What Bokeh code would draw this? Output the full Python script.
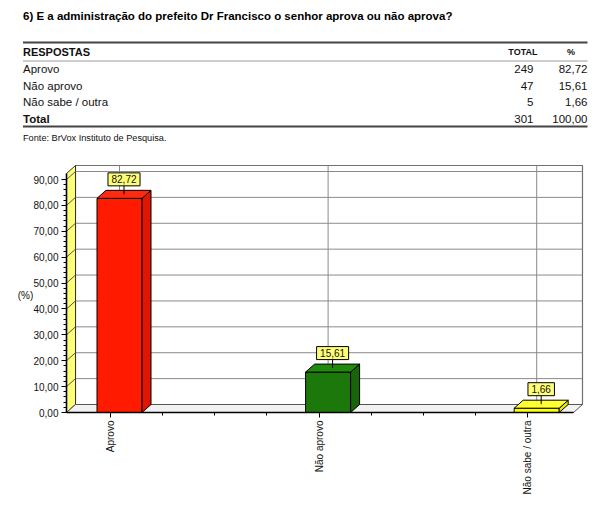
import math
from bokeh.plotting import figure
from bokeh.models import Range1d, FixedTicker
from bokeh.embed import file_html
from bokeh.resources import INLINE
from bokeh.core.properties import value

FONT = "Liberation Sans"

# ---------------- data ----------------
question = "6) E a administração do prefeito Dr Francisco o senhor aprova ou não aprova?"
col_headers = ["RESPOSTAS", "TOTAL", "%"]
categories = ["Aprovo", "Não aprovo", "Não sabe / outra"]
totals = [249, 47, 5]
percents = [82.72, 15.61, 1.66]
total_label = "Total"
total_n = 301
total_pct = 100.00
source_note = "Fonte: BrVox Instituto de Pesquisa."
y_axis_title = "(%)"
y_ticks = [0, 10, 20, 30, 40, 50, 60, 70, 80, 90]
y_tick_labels = ["0,00", "10,00", "20,00", "30,00", "40,00", "50,00",
                 "60,00", "70,00", "80,00", "90,00"]

# ---------------- styles ----------------
front_colors = ["#ff1a00", "#1c780a", "#ffff00"]
side_colors = ["#e01600", "#176508", "#e8e800"]
top_colors = ["#ff2a10", "#208a0c", "#ffff33"]
wall_yellow = "#ffff77"
grid_gray = "#8a8a8a"
W, H = 600, 520


def br(v):
    return f"{v:.2f}".replace(".", ",")


# chart geometry (pixels on the page)
SX = 208.6          # px per category
SY = 233.0 / 90.0   # px per percent
CAT0_X = 110.0      # page x of first category
BASE_Y = 412.0      # page y of value 0 (front)
xs0 = -CAT0_X / SX
xs1 = xs0 + W / SX
ys0 = -(H - BASE_Y) / SY
ys1 = ys0 + H / SY
ddx = 9.0 / SX       # depth offset (x)
ddy = 8.0 / SY       # depth offset (y)
xl = (66.0 - CAT0_X) / SX
xr = (573.0 - CAT0_X) / SX
ytop = (BASE_Y - 173.0) / SY
bw = 45.0 / SX

p = figure(width=W, height=H, x_range=Range1d(xs0, xs1), y_range=Range1d(ys0, ys1),
           toolbar_location=None, output_backend="svg", min_border=0)
p.extra_x_ranges = {"page": Range1d(0, W)}
p.extra_y_ranges = {"page": Range1d(H, 0)}
p.xgrid.visible = False
p.ygrid.visible = False
p.outline_line_color = None
p.background_fill_color = "white"
p.border_fill_color = "white"

PG = dict(x_range_name="page", y_range_name="page")


def ptext(xs, ys, texts, size, bold=False, align="left", color="#111111"):
    p.text(x=xs, y=ys, text=texts, text_font=value(FONT), text_font_size=size,
           text_font_style="bold" if bold else "normal", text_align=align,
           text_baseline="middle", text_color=color, **PG)


# ---------------- table ----------------
left_x = 22.5
tot_x = 533
pct_x = 587
ptext([left_x], [15], [question], "11.5px", bold=True, color="#000000")
p.segment(x0=[left_x], y0=[42], x1=[pct_x], y1=[42], line_color="#444444", line_width=2, **PG)
ptext([left_x], [51], [col_headers[0]], "11px", bold=True)
ptext([537], [51], [col_headers[1]], "9px", bold=True, align="right")
ptext([570.5], [51], [col_headers[2]], "9px", bold=True, align="center")
p.segment(x0=[left_x], y0=[60.5], x1=[pct_x], y1=[60.5], line_color="#9a9a9a", line_width=1, **PG)

row_y0, row_step = 68.5, 16.5
rows_y = [row_y0 + i * row_step for i in range(len(categories))]
n = len(categories)
ptext([left_x] * n, rows_y, categories, "11.5px")
ptext([tot_x] * n, rows_y, [str(v) for v in totals], "11.5px", align="right")
ptext([pct_x] * n, rows_y, [br(v) for v in percents], "11.5px", align="right")
ty = row_y0 + n * row_step
ptext([left_x], [ty], [total_label], "11.5px", bold=True)
ptext([tot_x], [ty], [str(total_n)], "11.5px", align="right")
ptext([pct_x], [ty], [br(total_pct)], "11.5px", align="right")
p.segment(x0=[left_x], y0=[126], x1=[pct_x], y1=[126], line_color="#444444", line_width=2, **PG)
ptext([left_x], [137.5], [source_note], "9.2px")
ptext([25], [295], [y_axis_title], "10px", align="center")

# ---------------- 3D chart ----------------
# back wall
p.quad(left=[xl + ddx], right=[xr + ddx], bottom=[ddy], top=[ytop + ddy],
       fill_color="white", line_color="#707070", line_width=1.2)
# horizontal gridlines on back wall
p.segment(x0=[xl + ddx] * len(y_ticks), y0=[v + ddy for v in y_ticks],
          x1=[xr + ddx] * len(y_ticks), y1=[v + ddy for v in y_ticks],
          line_color=grid_gray, line_width=1)
# vertical gridlines on back wall
p.segment(x0=[i + ddx for i in range(n)], y0=[ddy] * n,
          x1=[i + ddx for i in range(n)], y1=[ytop + ddy] * n,
          line_color=grid_gray, line_width=1)
# left (yellow) wall
p.patch(x=[xl, xl + ddx, xl + ddx, xl], y=[0, ddy, ytop + ddy, ytop],
        fill_color=wall_yellow, line_color="#333333", line_width=1)
p.segment(x0=[xl] * len(y_ticks), y0=y_ticks, x1=[xl + ddx] * len(y_ticks),
          y1=[v + ddy for v in y_ticks], line_color="#555555", line_width=1)
# floor
p.patch(x=[xl, xr, xr + ddx, xl + ddx], y=[0, 0, ddy, ddy],
        fill_color="#f2f2f2", line_color="#555555", line_width=1)

# bars
bx = [i + ddx for i in range(n)]
lefts = [b - bw / 2 for b in bx]
rights = [b + bw / 2 for b in bx]
p.quad(left=lefts, right=rights, bottom=[0] * n, top=percents,
       fill_color=front_colors, line_color="black", line_width=1)
side_xs = [[r, r + ddx, r + ddx, r] for r in rights]
side_ys = [[0, ddy, h + ddy, h] for h in percents]
p.patches(xs=side_xs, ys=side_ys, fill_color=side_colors, line_color="black", line_width=1)
top_xs = [[l, r, r + ddx, l + ddx] for l, r in zip(lefts, rights)]
top_ys = [[h, h, h + ddy, h + ddy] for h in percents]
p.patches(xs=top_xs, ys=top_ys, fill_color=top_colors, line_color="black", line_width=1)

# value labels
lab_x = [b + ddx / 2 for b in bx]
lab_y = [h + ddy / 2 + 15.0 / SY for h in percents]
lab_txt = [br(v) for v in percents]
lab_w = [7 + 5.56 * (len(s) - 1) + 2.8 for s in lab_txt]
p.segment(x0=lab_x, y0=[h + ddy / 2 for h in percents], x1=lab_x, y1=lab_y,
          line_color="black", line_width=1)
p.rect(x=lab_x, y=lab_y, width=lab_w, height=[13] * n, width_units="screen",
       height_units="screen", fill_color=wall_yellow, line_color="black", line_width=1)
p.text(x=lab_x, y=lab_y, text=lab_txt, text_font=value(FONT), text_font_size="10px",
       text_align="center", text_baseline="middle", text_color="#111111")

# axes (fixed at the chart's front edges)
p.xaxis.fixed_location = 0
p.yaxis.fixed_location = xl
p.xaxis.ticker = FixedTicker(ticks=list(range(n)),
                             minor_ticks=[i + k / 4 for i in range(n - 1) for k in (1, 2, 3)])
p.xaxis.major_label_overrides = {i: cat for i, cat in enumerate(categories)}
p.xaxis.major_label_orientation = math.pi / 2
p.xaxis.bounds = (xl, xr)
p.yaxis.ticker = FixedTicker(ticks=y_ticks, minor_ticks=[v for v in range(0, 92, 2)])
p.yaxis.major_label_overrides = dict(zip(y_ticks, y_tick_labels))
p.yaxis.bounds = (0, ytop)
for ax in (p.xaxis, p.yaxis):
    ax.axis_line_color = "black"
    ax.axis_line_width = 1.6
    ax.major_tick_line_color = "black"
    ax.minor_tick_line_color = "black"
    ax.major_tick_in = 0
    ax.minor_tick_in = 0
    ax.major_tick_out = 5
    ax.minor_tick_out = 3
    ax.major_label_text_font = FONT
    ax.major_label_text_font_size = "10px"
    ax.major_label_text_color = "#111111"
    ax.major_label_standoff = 3

open("out.html", "w").write(file_html(p, INLINE))
